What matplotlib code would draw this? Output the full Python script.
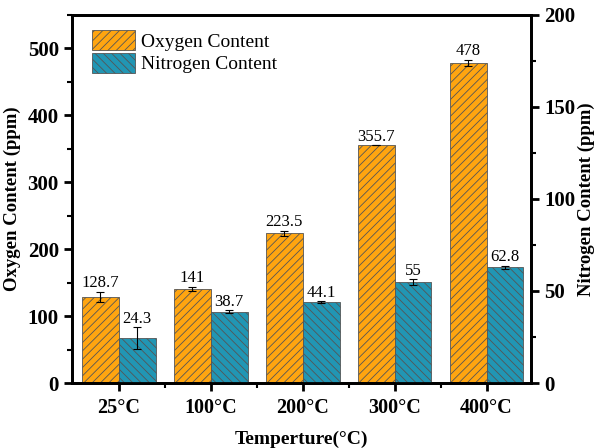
import numpy as np
import matplotlib.pyplot as plt
from matplotlib.ticker import MultipleLocator, FixedLocator

plt.rcParams['font.family'] = 'Liberation Serif'
plt.rcParams['hatch.color'] = '#333333'
plt.rcParams['hatch.linewidth'] = 0.6

# ---------------------------------------------------------------
temps = ['25°C', '100°C', '200°C', '300°C', '400°C']
oxygen = [128.7, 141, 223.5, 355.7, 478]
oxygen_err = [8, 3, 4, 0, 5]
nitrogen = [24.3, 38.7, 44.1, 55, 62.8]
nitrogen_err = [6, 0.8, 0.5, 1.5, 1]

oxy_color = '#FFA510'
nit_color = '#2196B4'

# ---------------------------------------------------------------
fig = plt.figure(figsize=(5.95, 4.48), dpi=100)
ax1 = fig.add_axes([0.121, 0.145, 0.771, 0.822])
ax2 = ax1.twinx()

x = np.arange(len(temps))
w = 0.4

b1 = ax1.bar(x - w / 2, oxygen, w, color=oxy_color, edgecolor='#555555',
             linewidth=0.6, hatch='////', label='Oxygen Content')
ax1.errorbar(x - w / 2, oxygen, yerr=oxygen_err, fmt='none', ecolor='black',
             elinewidth=0.8, capsize=3, capthick=0.8)
b2 = ax2.bar(x + w / 2, nitrogen, w, color=nit_color, edgecolor='#555555',
             linewidth=0.6, hatch='\\\\\\\\', label='Nitrogen Content')
ax2.errorbar(x + w / 2, nitrogen, yerr=nitrogen_err, fmt='none', ecolor='black',
             elinewidth=0.8, capsize=3, capthick=0.8)

for xi, v, e in zip(x, oxygen, oxygen_err):
    ax1.text(xi - w / 2, v + e + 0.5, f'{v:g}', ha='center', va='bottom', fontsize=12)
for xi, v, e in zip(x, nitrogen, nitrogen_err):
    ax2.text(xi + w / 2, v + e + 0.2, f'{v:g}', ha='center', va='bottom', fontsize=12)

ax1.set_xlim(-0.51, 4.48)
ax1.set_ylim(0, 550)
ax2.set_ylim(0, 200)

ax1.set_xticks(x)
ax1.set_xticklabels(temps, fontweight='bold', fontsize=14.5)
ax1.xaxis.set_minor_locator(FixedLocator(x[:-1] + 0.5))
ax1.yaxis.set_major_locator(MultipleLocator(100))
ax1.yaxis.set_minor_locator(MultipleLocator(50))
ax2.yaxis.set_major_locator(MultipleLocator(50))
ax2.yaxis.set_minor_locator(MultipleLocator(25))

for ax in (ax1, ax2):
    for lab in ax.get_yticklabels():
        lab.set_fontweight('bold')
        lab.set_fontsize(15)
    for s in ax.spines.values():
        s.set_linewidth(2)
    ax.tick_params(which='major', direction='out', length=6, width=2)
    ax.tick_params(which='minor', direction='out', length=3.5, width=1.5)
ax1.tick_params(axis='x', which='major', pad=5)

ax1.set_ylabel('Oxygen Content (ppm)', fontweight='bold', fontsize=13.5, labelpad=5)
ax2.set_ylabel('Nitrogen Content (ppm)', fontweight='bold', fontsize=13.5, labelpad=2)
ax1.set_xlabel('Temperture(°C)', fontweight='bold', fontsize=14, labelpad=9)

ax1.legend([b1, b2], ['Oxygen Content', 'Nitrogen Content'], loc='upper left',
           bbox_to_anchor=(0.01, 1.0), frameon=False, fontsize=14,
           handlelength=2.2, handleheight=1.2, borderaxespad=0.4,
           labelspacing=0.1, handletextpad=0.3)

fig.savefig('out.png', dpi=100)
